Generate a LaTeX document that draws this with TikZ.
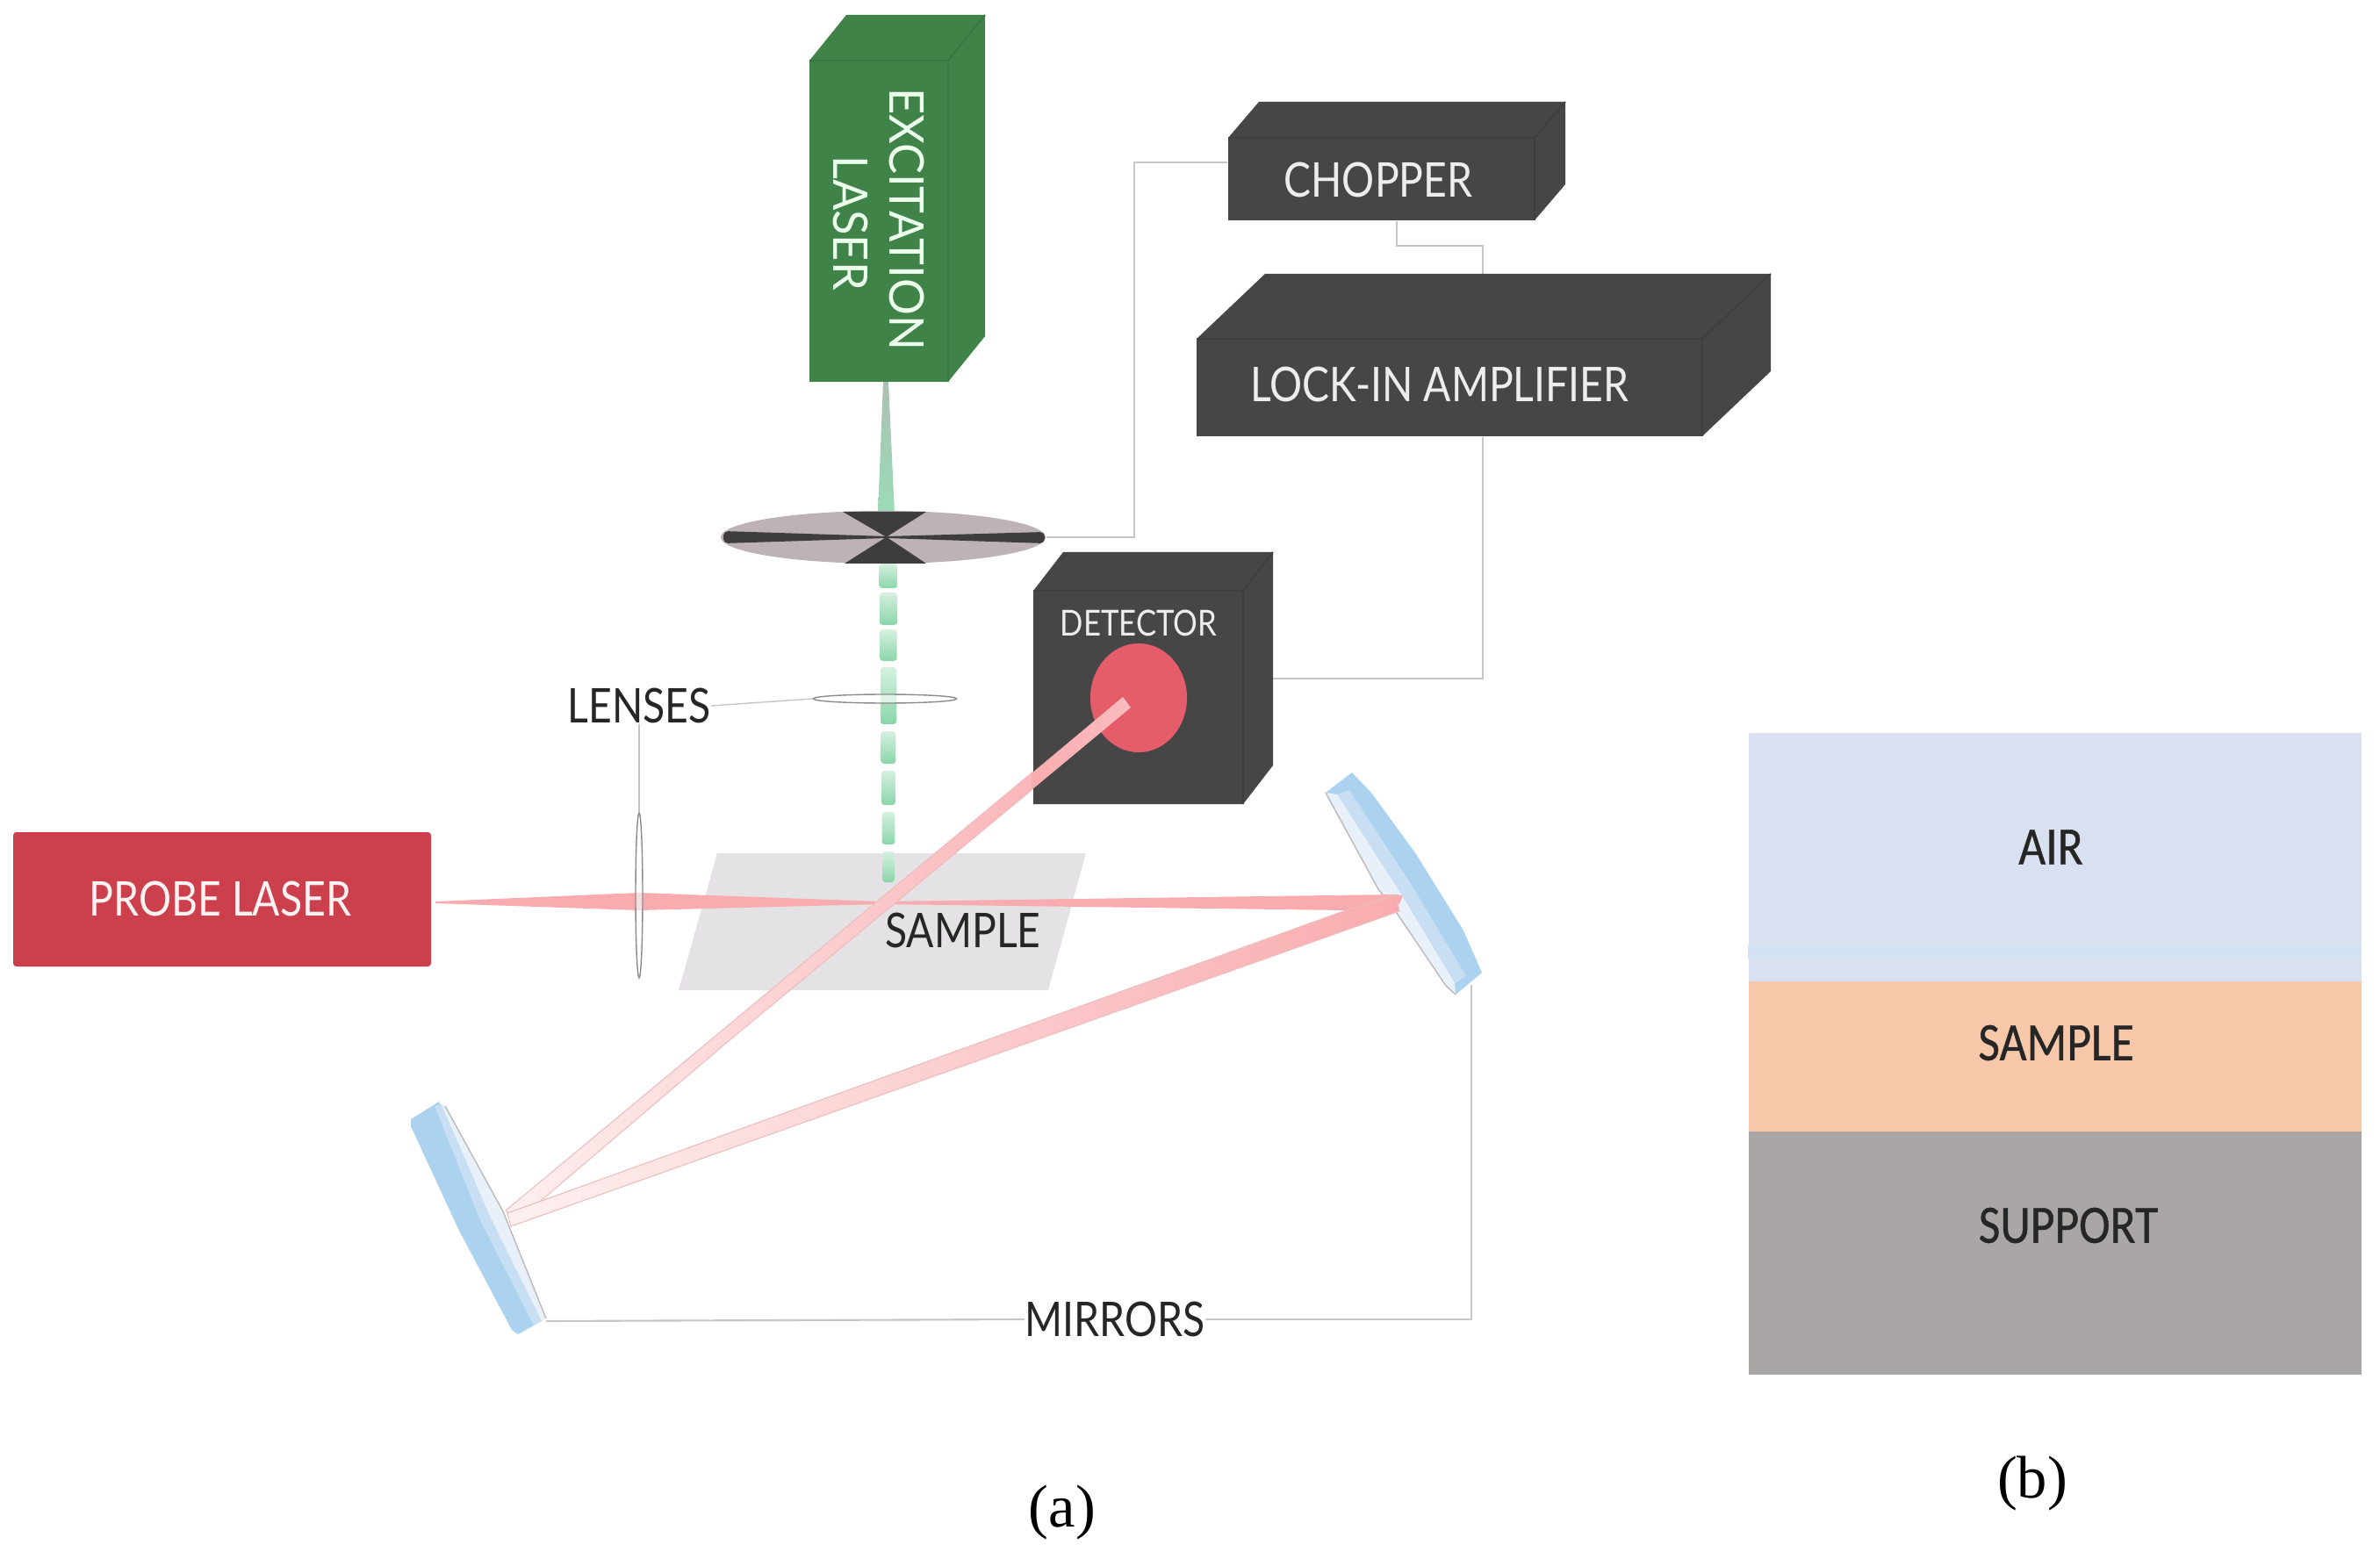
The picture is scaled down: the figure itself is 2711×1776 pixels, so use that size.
\documentclass[tikz,border=0pt]{standalone}
\usepackage{fontspec}
\setmainfont{Lato}[FakeStretch=0.85]
\newfontfamily\widefont{Lato}[FakeStretch=0.96]
\newfontfamily\panelfont{Carlito}[FakeStretch=0.87,FakeBold=0.6]
\newfontfamily\capfont{Liberation Serif}
\usetikzlibrary{backgrounds,fit,shapes.geometric}
\definecolor{boxgray}{HTML}{474647}
\definecolor{lasergreen}{HTML}{3F8349}
\definecolor{probered}{HTML}{CC3F4C}
\definecolor{wiregray}{HTML}{C6C6C6}
\definecolor{beampink}{HTML}{F9ACAF}
\definecolor{beamfade}{HTML}{FEF0F0}
\definecolor{beamedge}{HTML}{EDBDBD}
\definecolor{discgray}{HTML}{BDB3B5}
\definecolor{discdark}{HTML}{3F3C3D}
\definecolor{mint}{HTML}{8AD6AA}
\definecolor{mintpale}{HTML}{D6F0E0}
\definecolor{mirrorblue}{HTML}{ABD3F0}
\definecolor{mirrorstrip}{HTML}{C8DFF3}
\definecolor{mirrorfront}{HTML}{E8F1FA}
\definecolor{slabgray}{HTML}{E4E2E4}
\definecolor{eyered}{HTML}{E55C6B}
\definecolor{airblue}{HTML}{D9E1F0}
\definecolor{bandblue}{HTML}{D3E1F5}
\definecolor{samplepeach}{HTML}{F6C7A9}
\definecolor{supportgray}{HTML}{AAA6A5}
\tikzstyle{label}=[inner sep=0pt, align=center, text=black!85, font=\fontsize{15.5}{18}\selectfont]
\tikzstyle{boxlabel}=[label, text=white!93!black]
\tikzstyle{upright}=[boxlabel, rotate=-90, text=green!8!white, font=\widefont\fontsize{15.5}{18}\selectfont]
\tikzstyle{wire}=[draw=wiregray, line width=0.6pt]
\tikzstyle{layer}=[rectangle, inner sep=0pt]
\tikzstyle{layerlabel}=[inner sep=0pt, text=black!85, font=\panelfont\fontsize{17.5}{20}\selectfont]
\tikzstyle{caption}=[inner sep=0pt, font=\capfont\fontsize{19.5}{22}\selectfont]
\tikzstyle{lens}=[ellipse, draw=gray!90, line width=0.4pt, fill=white, fill opacity=0.6, inner sep=0pt, minimum size=0pt]
\tikzstyle{fadebeam}=[left color=beamfade, middle color=beampink!75!white, right color=beampink, draw=beamedge, line width=0.3pt]
\tikzstyle{frontedge}=[draw=gray!55, line width=0.4pt]
% front corner, opposite corner, depth
\newcommand{\solidbox}[8]{
  \fill[#2] (#3,#4) -- ({#3+#7},{#4-#8}) -- ({#5+#7},{#4-#8}) -- ({#5+#7},{#6-#8}) -- (#5,#6) -- (#3,#6) -- cycle;
  \draw[#2!90!black, line width=0.5pt] (#3,#4) -- (#5,#4) -- (#5,#6) (#5,#4) -- ({#5+#7},{#4-#8});
  \node[inner sep=0pt, fit={(#3,#4) (#5,#6)}] (#1) {};
}

\begin{document}
\begin{tikzpicture}[x=0.01cm, y=-0.01cm]
    \useasboundingbox (0,0) rectangle (2711,1776);

    \fill[slabgray] (817,972) -- (1237,972) -- (1194,1128) -- (773,1128) -- cycle;

    \node[label] (sampletxt) at (1097,1060) {SAMPLE};

    % mirrors
    \fill[mirrorblue] (468,1275) -- (500,1255) -- (617,1505) -- (590,1520) -- (583,1515) -- (522,1400) -- (468,1283) -- cycle;
    \fill[mirrorstrip] (495,1260) -- (503,1258) -- (557,1383) -- (617,1505) -- (608,1510) -- (546,1388) -- cycle;
    \fill[mirrorfront] (503,1258) -- (507,1260) -- (573,1380) -- (622,1502) -- (617,1505) -- (557,1383) -- cycle;
    \draw[frontedge] (507,1260) -- (573,1380) -- (622,1502);
    \node[inner sep=0pt, fit={(468,1255) (622,1520)}] (mirrorA) {};
    \fill[mirrorblue] (1510,903) -- (1540,880) -- (1562,903) -- (1613,973) -- (1667,1060) -- (1688,1108) -- (1658,1133) -- (1647,1123) -- (1593,1043) -- (1513,910) -- cycle;
    \fill[mirrorstrip] (1523,905) -- (1537,900) -- (1609,1010) -- (1670,1112) -- (1657,1120) -- (1597,1020) -- cycle;
    \fill[mirrorfront] (1510,903) -- (1523,905) -- (1597,1020) -- (1657,1120) -- (1658,1133) -- (1647,1123) -- (1593,1043) -- (1570,1013) -- (1513,910) -- cycle;
    \draw[frontedge] (1510,903) -- (1570,1013) -- (1593,1043) -- (1647,1123) -- (1658,1133);
    \node[inner sep=0pt, fit={(1510,880) (1688,1133)}] (mirrorB) {};

    \fill[beampink] (496,1027) -- (728,1017) -- (1003,1027) -- (1590,1019) -- (1598,1020) -- (1594,1030) -- (1533,1037) -- (1003,1030) -- (728,1037) -- (496,1029) -- cycle;
    \shadedraw[fadebeam] (576,1379) -- (1279,794) -- (1288,806) -- (1175,900) -- (825,1190) -- (590,1390) -- cycle;
    \shadedraw[fadebeam] (578,1382) -- (1533,1037) -- (1590,1019) -- (1594,1038) -- (582,1397) -- cycle;

    % excitation beam
    \shade[top color=black!20!mintpale, bottom color=mint!85!white] (1006,435) -- (1012,435) -- (1019,585) -- (1000,585) -- cycle;
    \foreach \ya/\yb in {642/670,675/712,717/753,760/825,833/870,878/917,925/962,970/1005} {
      \pgfmathsetmacro{\h}{10.5-3.5*(\ya-642)/328}
      \shade[top color=mintpale, bottom color=mint, rounded corners=1pt] ({1012-\h},\ya) rectangle ({1012+\h},\yb);
    }

    \solidbox{laser}{lasergreen}{922}{69}{1080}{435}{42}{52}
    \solidbox{chopper}{boxgray}{1399}{157}{1748}{251}{35}{41}
    \solidbox{amp}{boxgray}{1363}{386}{1939}{497}{78}{74}
    \solidbox{detector}{boxgray}{1177}{673}{1416}{916}{34}{44}

    \node[upright] (exctxt) at (1033,250) {EXCITATION};
    \node[upright] (lasertxt) at (969,254) {LASER};
    \node[boxlabel] (choppertxt) at (1570,205) {CHOPPER};
    \node[boxlabel] (amptxt) at (1640,438) {LOCK-IN AMPLIFIER};
    \node[boxlabel, font=\fontsize{11.6}{13}\selectfont] (dettxt) at (1297,710) {DETECTOR};
    \node[ellipse, fill=eyered, inner sep=0pt, minimum width=1.1cm, minimum height=1.24cm] (eye) at (1297,795) {};
    \shade[left color=beampink, right color=beampink!80!white] (1175,881) -- (1279,794) -- (1288,806) -- (1175,900) -- cycle;

    % chopper wheel
    \node[ellipse, fill=discgray, inner sep=0pt, minimum width=3.7cm, minimum height=0.6cm] (disc) at (1006,612) {};
    \fill[discdark] (960,583) -- (1055,583) -- (962,642) -- (1055,642) -- (1010,612) -- cycle;
    \fill[discdark, rounded corners=1.5pt] (824,605) -- (1010,611) -- (1190,606) -- (1190,619) -- (1010,613) -- (824,619) -- cycle;

    \fill[probered, rounded corners=1pt] (15,948) rectangle (491,1101);
    \node[inner sep=0pt, fit={(15,948) (491,1101)}] (probe) {};
    \node[boxlabel, text=red!5!white] (probetxt) at (251,1024) {PROBE LASER};

    \node[lens, minimum width=1.63cm, minimum height=0.1cm] (lensH) at (1008,796) {};
    \node[lens, minimum width=0.08cm, minimum height=1.88cm] (lensV) at (728,1020) {};
    \node[label] (lenses) at (728,804) {LENSES};
    \node[label] (mirrors) at (1270,1503) {MIRRORS};

    \begin{scope}[on background layer]
      \coordinate (bendA) at (1292,185);
      \draw[wire] (disc.east) -| (bendA) -- (chopper.west |- bendA);
      \coordinate (bendB) at (1591,280);
      \coordinate (bendC) at (1689,280);
      \draw[wire] (chopper.south -| bendB) -- (bendB) -- (bendC) -- (amp.north -| bendC);
      \coordinate (bendD) at (1689,773);
      \draw[wire] (amp.south -| bendD) -- (bendD) -- (detector.east |- bendD);
      \coordinate (armA) at (622,1505);
      \coordinate (armB) at (1676,1122);
      \draw[wire] (mirrors.west) -- (armA);
      \draw[wire] (mirrors.east) -| (armB);
      \draw[wire, line width=0.4pt] (lenses.east) -- (lensH.west);
      \draw[wire, line width=0.4pt] (lenses.south) -- (lensV.north);
    \end{scope}

    \node[layer, fill=airblue, minimum width=6.98cm, minimum height=2.83cm, anchor=north west] (air) at (1991,834) {};
    \fill[bandblue] (1991,1077) rectangle (2689,1092);
    \node[layer, fill=samplepeach, minimum width=6.98cm, minimum height=1.71cm, anchor=north west] (samplelayer) at (1991,1117) {};
    \node[layer, fill=supportgray, minimum width=6.98cm, minimum height=2.77cm, anchor=north west] (support) at (1991,1288) {};
    \node[layerlabel] (airtxt) at (2336,965) {AIR};
    \node[layerlabel] (sampletxtb) at (2342,1188) {SAMPLE};
    \node[layerlabel] (supporttxt) at (2356,1396) {SUPPORT};

    \node[caption] (capa) at (1210,1723) {(a)};
    \node[caption] (capb) at (2315,1690) {(b)};
  \end{tikzpicture}
\end{document}
